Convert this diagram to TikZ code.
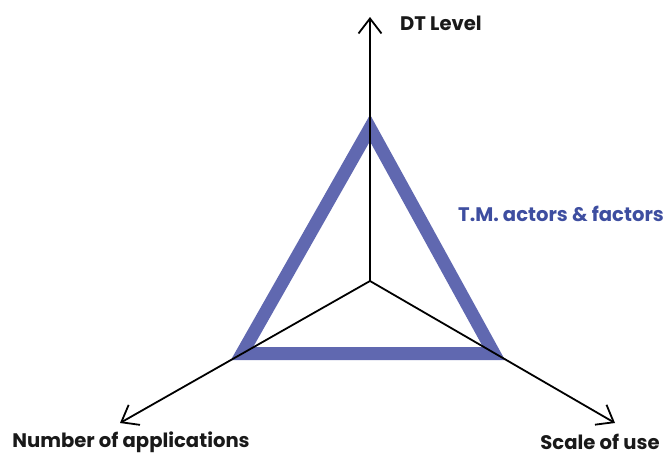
\documentclass[tikz,border=0pt]{standalone}
\usepackage{fontspec}
\setmainfont{Poppins}
\usetikzlibrary{arrows.meta}
\definecolor{tmblue}{RGB}{96,104,176}
\definecolor{tmtext}{RGB}{62,78,160}
\tikzset{tmaxis/.style={line width=1.8pt,-{Straight Barb[length=15pt,width=23pt,line width=1.8pt]}},
         tmtri/.style={draw=tmblue,line width=13pt,line join=miter},
         tmlab/.style={font=\fontsize{19.6}{24}\selectfont\bfseries,text=black!90,inner sep=0pt}}

\begin{document}
\begin{tikzpicture}[x=1pt,y=-1pt]
    \useasboundingbox (0,0) rectangle (668,455);
    \coordinate (O) at (370,281);
    \coordinate (ttop) at (370,128);
    \coordinate (tleft) at (242,353.5);
    \coordinate (tright) at (494,353.5);
    \draw[tmtri] (ttop) -- (tleft) -- (tright) -- cycle;
    \foreach \n/\x/\y in {up/370/17,nl/120/423,nr/615/423}
      {\coordinate (\n) at (\x,\y); \draw[tmaxis] (O) -- (\n);}
    \node[tmlab] (dtlab) at (441,23) {DT Level};
    \node[tmlab,text=tmtext] (tmlab) at (561,214) {T.M. actors \& factors};
    \node[tmlab] (nlab) at (131,442) {Number of applications};
    \node[tmlab] (slab) at (600,442) {Scale of use};
  \end{tikzpicture}
\end{document}
